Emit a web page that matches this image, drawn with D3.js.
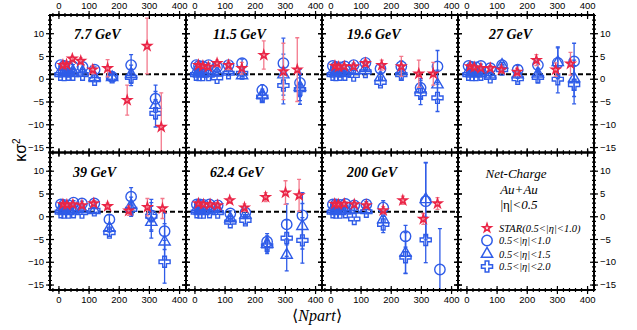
<!DOCTYPE html>
<html>
<head>
<meta charset="utf-8">
<script src="https://cdn.jsdelivr.net/npm/d3@7"></script>
<style>
body { margin: 0; background: #fff; }
svg { display: block; font-family: "Liberation Sans", Arial, sans-serif; }
</style>
</head>
<body>
<div id="chart"></div>
<script>
// beam energies, one panel each; the 8th panel only holds the legend
var energies = ["7.7 GeV", "11.5 GeV", "19.6 GeV", "27 GeV", "39 GeV", "62.4 GeV", "200 GeV"];

// STAR net-charge kappa*sigma^2 (0.5<|eta|<1.0)
var starNpart = [
    [15, 27, 46, 74, 114, 163, 228, 294, 341],
    [13, 28, 46, 75, 113, 157, 230, 295, 341],
    [15, 27, 46, 77, 116, 170, 235, 293, 341],
    [12, 26, 48, 79, 116, 168, 232, 296, 345],
    [15, 28, 48, 78, 117, 163, 233, 295, 345],
    [13, 30, 52, 77, 117, 166, 236, 302, 347],
    [14, 26, 46, 79, 119, 175, 240, 308, 355]
];
var starKS = [
    [3.0, 3.1, 4.4, 3.9, 2.0, 2.3, -4.7, 7.2, -10.6],
    [3.0, 2.8, 2.6, 3.4, 3.0, 2.3, 5.2, 1.6, 2.0],
    [2.8, 2.6, 2.7, 2.7, 3.4, 3.0, 2.7, 1.1, 1.1],
    [2.7, 2.5, 2.3, 2.3, 2.0, 1.5, 4.1, 2.0, 3.3],
    [2.6, 2.5, 2.6, 2.4, 2.8, 2.2, 1.2, 2.0, 1.7],
    [2.8, 2.6, 2.6, 2.4, 3.5, 1.9, 4.2, 5.2, 4.6],
    [2.7, 2.6, 2.7, 2.6, 2.4, 1.3, 3.5, -0.6, 2.8]
];
var starErr = [
    [0.4, 0.4, 0.5, 0.7, 0.9, 1.9, 3.3, 6.1, 7.5],
    [0.4, 0.4, 0.5, 0.7, 1.0, 1.3, 3.1, 6.2, 7.0],
    [0.3, 0.3, 0.4, 0.5, 0.7, 1.1, 2.2, 3.0, 2.5],
    [0.3, 0.3, 0.4, 0.5, 0.7, 0.8, 1.2, 1.5, 2.5],
    [0.3, 0.3, 0.4, 0.5, 0.6, 0.7, 1.0, 1.9, 2.2],
    [0.3, 0.3, 0.4, 0.5, 0.6, 0.8, 1.0, 2.6, 3.5],
    [0.3, 0.3, 0.4, 0.5, 0.6, 0.8, 0.9, 1.2, 1.3]
];

// model centrality bins, shared by the three eta windows
var modelNpart = [
    [7, 19, 33, 48, 80, 120, 178, 241, 322],
    [6, 15, 28, 47, 75, 113, 158, 225, 295, 350],
    [8, 18, 32, 48, 77, 116, 166, 235, 299, 355],
    [7, 18, 32, 48, 79, 118, 170, 237, 303, 357],
    [8, 18, 33, 50, 78, 119, 169, 241, 308, 352],
    [8, 18, 30, 50, 77, 119, 169, 241, 306, 358],
    [8, 18, 32, 50, 79, 119, 175, 249, 316, 363]
];

// 0.5<|eta|<1.0 (circles)
var eta10 = [
    [3.0, 2.8, 2.6, 2.7, 2.6, 2.0, 0.4, 3.0, -4.4],
    [3.0, 2.8, 2.7, 3.0, 2.6, 3.0, 3.4, -2.5, 3.4, -0.9],
    [2.8, 2.6, 2.5, 2.7, 3.0, 3.5, 2.2, 2.7, -2.0, 2.7],
    [2.8, 2.6, 2.5, 2.8, 2.3, 3.0, 2.0, 3.0, 3.5, 3.8],
    [2.6, 2.5, 2.4, 3.0, 2.8, 2.8, -0.7, 4.3, 0.2, -3.3],
    [2.6, 2.6, 2.5, 2.6, 2.4, 0.6, 0.8, -5.6, -1.8, 0.2],
    [2.6, 2.6, 2.5, 2.7, 2.4, 2.6, 1.9, -4.4, 3.3, -11.7]
];
var eta10Err = [
    [0.3, 0.3, 0.4, 0.4, 0.5, 0.6, 0.8, 2.3, 3.0],
    [0.3, 0.3, 0.4, 0.4, 0.5, 0.6, 0.9, 1.2, 5.5, 3.0],
    [0.3, 0.3, 0.3, 0.4, 0.4, 0.5, 0.8, 1.2, 2.0, 3.5],
    [0.3, 0.3, 0.3, 0.4, 0.5, 0.6, 0.9, 1.3, 3.5, 4.0],
    [0.3, 0.3, 0.4, 0.4, 0.5, 0.6, 1.0, 2.0, 3.5, 4.0],
    [0.3, 0.3, 0.4, 0.4, 0.5, 0.6, 0.8, 1.8, 4.5, 5.0],
    [0.3, 0.3, 0.4, 0.4, 0.5, 0.6, 1.5, 2.4, 8.5, 9.0]
];

// 0.5<|eta|<1.5 (triangles)
var eta15 = [
    [1.6, 1.5, 1.5, 1.6, 1.5, 0.3, 0.3, 1.0, -5.8],
    [1.6, 1.5, 1.4, 1.5, 1.4, 1.8, 0.7, -3.5, 0.9, -1.8],
    [1.6, 1.5, 1.6, 1.5, 1.7, 2.3, 0.3, 1.7, -2.4, -1.3],
    [1.6, 1.5, 1.5, 1.6, 0.9, 3.0, 0.9, 1.1, 3.6, 0.1],
    [1.6, 1.5, 1.5, 1.6, 1.5, 1.3, -2.6, 2.4, -1.3, -5.6],
    [1.6, 1.5, 1.5, 1.6, 1.5, -0.5, 0.3, -6.1, -8.5, -2.2],
    [1.6, 1.5, 1.5, 1.6, 1.4, 1.5, -0.7, -8.1, 3.7, null]
];
var eta15Err = [
    [0.3, 0.3, 0.3, 0.4, 0.5, 0.6, 0.8, 2.0, 3.0],
    [0.3, 0.3, 0.3, 0.4, 0.5, 0.6, 0.8, 1.2, 4.5, 3.0],
    [0.3, 0.3, 0.3, 0.4, 0.4, 0.5, 0.7, 1.0, 2.0, 3.2],
    [0.3, 0.3, 0.3, 0.4, 0.5, 0.6, 0.8, 1.2, 3.2, 4.0],
    [0.3, 0.3, 0.3, 0.4, 0.5, 0.6, 0.9, 1.8, 3.5, 4.0],
    [0.3, 0.3, 0.3, 0.4, 0.5, 0.6, 0.8, 1.8, 3.5, 5.0],
    [0.3, 0.3, 0.3, 0.4, 0.5, 0.6, 1.3, 4.5, 8.0, null]
];

// 0.5<|eta|<2.0 (crosses)
var eta20 = [
    [0.9, 0.8, 0.9, 0.9, 0.9, -0.2, 0.3, 0.3, -7.6],
    [0.9, 0.8, 0.8, 0.8, 0.2, 1.2, 1.2, -4.0, -1.5, -2.4],
    [0.9, 0.8, 0.9, 0.9, 0.7, 1.5, -0.8, 0.9, -3.3, -4.2],
    [0.9, 0.8, 0.8, 0.9, 0.3, 2.0, 0.0, 0.3, -0.1, -1.3],
    [0.9, 0.8, 0.8, 0.9, 0.8, 1.3, -3.6, 1.5, 0.0, -10.0],
    [0.9, 0.8, 0.8, 0.9, 0.8, -1.3, -0.9, -6.5, -4.8, -5.3],
    [0.9, 0.8, 0.8, 0.9, -0.6, 1.0, -1.8, -9.0, -5.2, null]
];
var eta20Err = [
    [0.3, 0.3, 0.3, 0.3, 0.4, 0.5, 0.7, 1.8, 3.0],
    [0.3, 0.3, 0.3, 0.3, 0.4, 0.5, 0.7, 1.0, 4.0, 3.2],
    [0.3, 0.3, 0.3, 0.3, 0.4, 0.5, 0.7, 1.0, 2.4, 3.0],
    [0.3, 0.3, 0.3, 0.3, 0.4, 0.5, 0.7, 1.2, 3.0, 4.2],
    [0.3, 0.3, 0.3, 0.3, 0.4, 0.5, 0.8, 1.5, 3.0, 4.7],
    [0.3, 0.3, 0.3, 0.3, 0.4, 0.5, 0.8, 1.7, 4.0, 5.0],
    [0.3, 0.3, 0.3, 0.3, 0.4, 0.5, 1.8, 3.5, 5.0, null]
];

var xMajor = [0, 100, 200, 300, 400];
var yMajor = [-15, -10, -5, 0, 5, 10];
var legendLabels = ["STAR(0.5<|\u03b7|<1.0)", "0.5<|\u03b7|<1.0", "0.5<|\u03b7|<1.5", "0.5<|\u03b7|<2.0"];

var blue = "#2f5ce8", red = "#ea2546", pink = "#f3798c";
var serif = "'Liberation Serif', 'Times New Roman', serif";

var margin = {left: 50, top: 15},
    pw = 136,
    ph = 137.5;
var titleDx = [24, 27, 25, 31, 23, 24, 25];

var x = d3.scaleLinear().domain([-28, 423]).range([0, pw]);
var y = d3.scaleLinear().domain([-16.2, 14]).range([ph, 0]);

var xMinor = d3.range(-20, 421, 20);
var yMinor = d3.range(-16, 15, 1);

var symStar = d3.symbol().type(d3.symbolStar).size(22)();
var symCircle = d3.symbol().type(d3.symbolCircle).size(85)();
var symTri = d3.symbol().type(d3.symbolTriangle).size(55)();
var symCross = d3.symbol().type(d3.symbolCross).size(68)();

var svg = d3.select("#chart").append("svg")
    .attr("width", 637)
    .attr("height", 330);

svg.append("defs").append("clipPath").attr("id", "pclip")
    .append("rect").attr("width", pw).attr("height", ph);

for (var i = 0; i < 8; i++) {
    var col = i % 4, row = Math.floor(i / 4);
    var g = svg.append("g")
        .attr("transform", "translate(" + (margin.left + col * pw) + "," + (margin.top + row * ph) + ")");
    if (i < 7) drawData(g, i);
    else drawLegend(g);
    drawFrame(g, col, row);
}

// axis titles
svg.append("text")
    .attr("transform", "translate(26,150) rotate(-90)")
    .attr("text-anchor", "middle")
    .style("font-size", "16px")
    .html("\u03ba\u03c3<tspan dy='-6' style='font-size:10px'>2</tspan>");

svg.append("text")
    .attr("x", 317).attr("y", 321)
    .attr("text-anchor", "middle")
    .style("font-family", serif)
    .style("font-size", "16px")
    .html("\u27e8<tspan font-style='italic'>Npart</tspan>\u27e9");

function errorBars(sel, pts, color, width) {
    var eb = sel.append("g").attr("stroke", color).attr("stroke-width", width);
    eb.selectAll(null).data(pts).enter().append("line")
        .attr("x1", function(d) { return x(d.n); })
        .attr("x2", function(d) { return x(d.n); })
        .attr("y1", function(d) { return y(d.v + d.e); })
        .attr("y2", function(d) { return y(d.v - d.e); });
    [1, -1].forEach(function(s) {
        eb.selectAll(null).data(pts).enter().append("line")
            .attr("x1", function(d) { return x(d.n) - 2; })
            .attr("x2", function(d) { return x(d.n) + 2; })
            .attr("y1", function(d) { return y(d.v + s * d.e); })
            .attr("y2", function(d) { return y(d.v + s * d.e); });
    });
}

function drawData(g, k) {
    var plot = g.append("g").attr("clip-path", "url(#pclip)");

    // Poisson baseline
    plot.append("line")
        .attr("x1", 0).attr("x2", pw)
        .attr("y1", y(1)).attr("y2", y(1))
        .attr("stroke", "#000")
        .attr("stroke-width", 2)
        .attr("stroke-dasharray", "5,3");

    var series = [
        {v: eta20[k], e: eta20Err[k], path: symCross},
        {v: eta15[k], e: eta15Err[k], path: symTri},
        {v: eta10[k], e: eta10Err[k], path: symCircle}
    ];
    series.forEach(function(s) {
        var pts = modelNpart[k].map(function(n, j) {
            return {n: n, v: s.v[j], e: s.e[j]};
        }).filter(function(d) { return d.v != null; });
        errorBars(plot, pts, blue, 1.3);
        plot.selectAll(null).data(pts).enter().append("path")
            .attr("d", s.path)
            .attr("transform", function(d) { return "translate(" + x(d.n) + "," + y(d.v) + ")"; })
            .attr("fill", "none")
            .attr("stroke", blue)
            .attr("stroke-width", 1.4);
    });

    var stars = starNpart[k].map(function(n, j) {
        return {n: n, v: starKS[k][j], e: starErr[k][j]};
    });
    errorBars(plot, stars, pink, 1.3);
    plot.selectAll(null).data(stars).enter().append("path")
        .attr("d", symStar)
        .attr("transform", function(d) { return "translate(" + x(d.n) + "," + y(d.v) + ")"; })
        .attr("fill", "none")
        .attr("stroke", red)
        .attr("stroke-width", 1.6);

    g.append("text")
        .attr("x", titleDx[k]).attr("y", 24)
        .style("font-family", serif)
        .style("font-weight", "bold")
        .style("font-style", "italic")
        .style("font-size", "14px")
        .text(energies[k]);
}

function tickSet(g, axis, values, len) {
    [len, -len].forEach(function(s) {
        g.append("g")
            .call(axis.tickValues(values).tickSize(s).tickFormat(""))
            .call(function(a) { a.select(".domain").remove(); })
            .selectAll("line").attr("stroke-width", 1.2);
    });
}

function drawFrame(g, col, row) {
    var top = g.append("g"),
        bottom = g.append("g").attr("transform", "translate(0," + ph + ")"),
        left = g.append("g"),
        right = g.append("g").attr("transform", "translate(" + pw + ",0)");

    tickSet(top, d3.axisTop(x), xMinor, 2);
    tickSet(top, d3.axisTop(x), xMajor, 4);
    tickSet(bottom, d3.axisBottom(x), xMinor, 2);
    tickSet(bottom, d3.axisBottom(x), xMajor, 4);
    tickSet(left, d3.axisLeft(y), yMinor, 2);
    tickSet(left, d3.axisLeft(y), yMajor, 4);
    tickSet(right, d3.axisRight(y), yMinor, 2);
    tickSet(right, d3.axisRight(y), yMajor, 4);

    g.append("rect")
        .attr("width", pw).attr("height", ph)
        .attr("fill", "none")
        .attr("stroke", "#000")
        .attr("stroke-width", 2);

    var labels = [];
    if (row === 0) labels.push(top.append("g").call(d3.axisTop(x).tickValues(xMajor).tickSize(0).tickPadding(6)));
    if (row === 1) labels.push(bottom.append("g").call(d3.axisBottom(x).tickValues(xMajor).tickSize(0).tickPadding(6)));
    if (col === 0) labels.push(left.append("g").call(d3.axisLeft(y).tickValues(yMajor).tickSize(0).tickPadding(6)));
    if (col === 3) labels.push(right.append("g").call(d3.axisRight(y).tickValues(yMajor).tickSize(0).tickPadding(6)));
    labels.forEach(function(a) {
        a.select(".domain").remove();
        a.attr("font-family", "'Liberation Sans', Arial, sans-serif").attr("font-size", 9.5);
    });
}

function drawLegend(g) {
    var head = [
        {t: "Net-Charge", x: 58, y: 25},
        {t: "Au+Au", x: 61, y: 41}
    ];
    head.forEach(function(h) {
        g.append("text")
            .attr("x", h.x).attr("y", h.y)
            .attr("text-anchor", "middle")
            .style("font-family", serif)
            .style("font-style", "italic")
            .style("font-size", "13px")
            .text(h.t);
    });
    g.append("text")
        .attr("x", 61).attr("y", 56)
        .attr("text-anchor", "middle")
        .style("font-family", serif)
        .style("font-size", "13px")
        .html("|\u03b7|<tspan font-style='italic'>&lt;0.5</tspan>");

    var syms = [symStar, symCircle, symTri, symCross];
    var colors = [red, blue, blue, blue];
    var rowsY = [75.5, 88, 101.5, 114];
    legendLabels.forEach(function(t, j) {
        g.append("path")
            .attr("d", syms[j])
            .attr("transform", "translate(29," + rowsY[j] + ")")
            .attr("fill", "none")
            .attr("stroke", colors[j])
            .attr("stroke-width", 1.5);
        g.append("text")
            .attr("x", 41).attr("y", rowsY[j] + 3.5)
            .style("font-family", serif)
            .style("font-style", "italic")
            .style("font-size", "10.5px")
            .text(t);
    });
}
</script>
</body>
</html>
